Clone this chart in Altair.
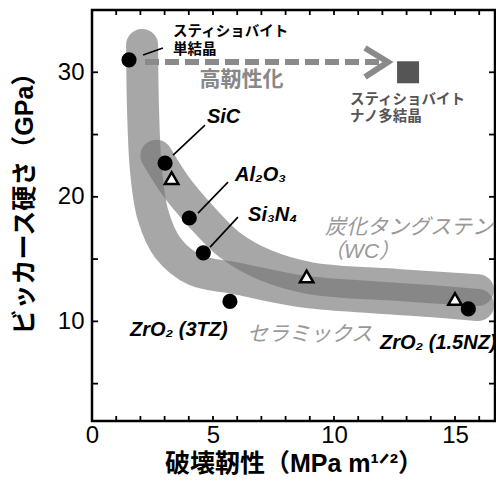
import altair as alt
import pandas as pd

# ---------------- data ----------------
# ceramics (black circles)
circle_x = [1.53, 3.02, 4.02, 4.60, 5.70, 15.55]
circle_y = [31.0, 22.7, 18.3, 15.5, 11.6, 11.0]
# tungsten carbide (white triangles)
tri_x = [3.29, 8.87, 15.0]
tri_y = [21.5, 13.6, 11.8]
# nano-polycrystalline stishovite (square)
nano_x = [13.06]
nano_y = [30.0]

# trend bands
cer_band_x = [2.07, 2.11, 2.23, 2.52, 3.14, 4.26, 5.91, 8.60, 11.49, 13.97, 15.95]
cer_band_y = [32.19, 26.97, 22.15, 18.53, 15.88, 14.12, 13.47, 12.43, 11.95, 11.63, 11.31]
wc_band_x = [2.66, 3.43, 4.46, 5.70, 7.15, 9.01, 12.73, 15.95]
wc_band_y = [23.3, 20.94, 18.53, 16.12, 14.52, 13.47, 12.91, 12.51]

# arrow (toughening)
arrow_x = [2.19, 11.9]
arrow_y = [30.82, 30.82]
head_x = [11.28, 12.23, 11.28]
head_y = [31.95, 30.82, 29.62]

# leader lines
lead_x = [2.11, 3.35, 4.38, 4.88]
lead_y = [31.39, 23.35, 18.69, 15.96]
lead_x2 = [2.93, 4.67, 5.62, 6.03]
lead_y2 = [31.95, 25.76, 21.18, 18.37]

# axis ticks / labels
x_tick_vals = list(range(1, 17))
y_tick_vals = [5, 10, 15, 20, 25, 30]
x_label_vals = [0, 5, 10, 15]
y_label_vals = [10, 20, 30]

# texts
black_jp_text = ["スティショバイト", "単結晶"]
black_jp_x = [3.35, 3.35]
black_jp_y = [33.23, 31.79]

nano_text = ["スティショバイト", "ナノ多結晶"]
nano_text_x = [10.66, 10.66]
nano_text_y = [27.77, 26.41]

tough_text = ["高靭性化"]
tough_x = [6.18]
tough_y = [29.38]

formula_text = ["SiC", "Al₂O₃", "Si₃N₄", "ZrO₂ (3TZ)", "ZrO₂ (1.5NZ)"]
formula_x = [4.75, 5.91, 6.45, 1.57, 11.90]
formula_y = [26.41, 21.75, 18.53, 9.30, 8.25]

gray_text = ["セラミックス", "炭化タングステン", "（WC）"]
gray_x = [6.40, 9.63, 9.55]
gray_y = [8.90, 17.49, 15.56]

# ---------------- chart ----------------
FONT = "Liberation Sans, Noto Sans CJK JP"
W, H = 403, 411
PX_PER_UNIT = 24.2
xs = alt.Scale(domain=[0, W / PX_PER_UNIT], nice=False, zero=False)
ys = alt.Scale(domain=[2, 35], nice=False, zero=False)

X_AXIS = alt.Axis(values=x_label_vals, title="破壊靭性（MPa m¹ᐟ²）", grid=False, domain=False,
                  ticks=False, labelFontSize=24, labelFont=FONT, labelColor="black",
                  labelPadding=2, titleFont=FONT, titleFontSize=25, titleFontWeight="bold",
                  titleColor="black", titlePadding=4, labelFlush=False)
Y_AXIS = alt.Axis(values=y_label_vals, title="ビッカース硬さ（GPa）", grid=False, domain=False,
                  ticks=False, labelFontSize=24, labelFont=FONT, labelColor="black",
                  labelPadding=8, titleFont=FONT, titleFontSize=25, titleFontWeight="bold",
                  titleColor="black", titleX=-55, titleY=187, labelFlush=False)

def X(field="x"):
    return alt.X(f"{field}:Q", scale=xs, axis=X_AXIS)

def Y(field="y"):
    return alt.Y(f"{field}:Q", scale=ys, axis=Y_AXIS)

band_df = pd.DataFrame({
    "x": cer_band_x + wc_band_x,
    "y": cer_band_y + wc_band_y,
    "band": ["cer"] * len(cer_band_x) + ["wc"] * len(wc_band_x),
    "o": list(range(len(cer_band_x))) + list(range(len(wc_band_x))),
})
bands = alt.Chart(band_df).mark_line(
    strokeWidth=32, strokeCap="round", strokeJoin="round",
    color="#767676", opacity=0.64, interpolate="catmull-rom"
).encode(x=X(), y=Y(), detail="band:N", order="o:Q")

arrow = alt.Chart(pd.DataFrame({"x": arrow_x, "y": arrow_y, "o": [0, 1]})).mark_line(
    strokeWidth=6, color="#8a8a8a", strokeDash=[14, 6], strokeCap="butt"
).encode(x=X(), y=Y(), order="o:Q")

head = alt.Chart(pd.DataFrame({"x": head_x, "y": head_y, "o": [0, 1, 2]})).mark_line(
    strokeWidth=6, color="#8a8a8a", strokeJoin="miter", strokeCap="butt"
).encode(x=X(), y=Y(), order="o:Q")

leaders = alt.Chart(pd.DataFrame({"x": lead_x, "y": lead_y, "x2": lead_x2, "y2": lead_y2})).mark_rule(
    strokeWidth=1.6, color="black"
).encode(x=X(), y=Y(), x2="x2:Q", y2="y2:Q")

circles = alt.Chart(pd.DataFrame({"x": circle_x, "y": circle_y})).mark_point(
    shape="circle", filled=True, size=230, color="black", opacity=1
).encode(x=X(), y=Y())

triangles = alt.Chart(pd.DataFrame({"x": tri_x, "y": tri_y})).mark_point(
    shape="triangle-up", filled=True, size=180, fill="white", stroke="black",
    strokeWidth=2.5, opacity=1
).encode(x=X(), y=Y())

square = alt.Chart(pd.DataFrame({"x": nano_x, "y": nano_y})).mark_point(
    shape="square", filled=True, size=484, color="#555555", opacity=1
).encode(x=X(), y=Y())

def text_layer(texts, xv, yv, size, color, weight="normal", style="normal", align="left"):
    df = pd.DataFrame({"t": texts, "x": xv, "y": yv})
    return alt.Chart(df).mark_text(
        align=align, baseline="middle", fontSize=size, color=color,
        fontWeight=weight, fontStyle=style, font=FONT
    ).encode(x=X(), y=Y(), text="t:N")

t_black = text_layer(black_jp_text, black_jp_x, black_jp_y, 14.5, "black", weight="bold")
t_nano = text_layer(nano_text, nano_text_x, nano_text_y, 14.5, "#555555", weight="bold")
t_tough = text_layer(tough_text, tough_x, tough_y, 21, "#888888", weight="bold", align="center")
t_formula = text_layer(formula_text, formula_x, formula_y, 20, "black", weight="bold", style="italic")
t_gray = text_layer(gray_text, gray_x, gray_y, 21, "#999999", style="italic")

xt = pd.DataFrame({"x": x_tick_vals})
yt = pd.DataFrame({"y": y_tick_vals})
tick_b = alt.Chart(xt).mark_rule(color="black", strokeWidth=1.8).encode(
    x=X(), y=alt.value(H), y2=alt.value(H - 5))
tick_t = alt.Chart(xt).mark_rule(color="black", strokeWidth=1.8).encode(
    x=X(), y=alt.value(0), y2=alt.value(5))
tick_l = alt.Chart(yt).mark_rule(color="black", strokeWidth=1.8).encode(
    y=Y(), x=alt.value(0), x2=alt.value(6))
tick_r = alt.Chart(yt).mark_rule(color="black", strokeWidth=1.8).encode(
    y=Y(), x=alt.value(W), x2=alt.value(W - 6))

chart = alt.layer(
    bands, arrow, head, leaders, circles, triangles, square,
    t_black, t_nano, t_tough, t_formula, t_gray,
    tick_b, tick_t, tick_l, tick_r,
).properties(
    width=W, height=H,
    autosize=alt.AutoSizeParams(type="none"),
    padding={"left": 84, "top": 2, "right": 1, "bottom": 65},
).configure_view(stroke="black", strokeWidth=2.5)

chart.save("out.html", embed_options={"renderer": "svg", "actions": False})
